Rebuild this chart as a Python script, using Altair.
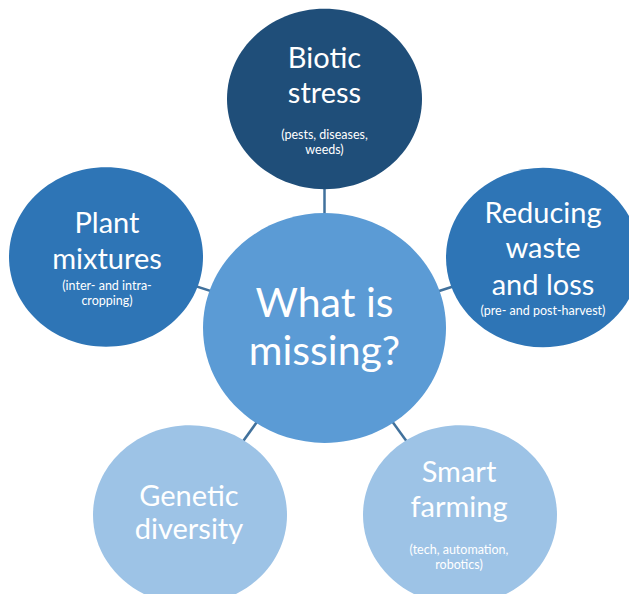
import altair as alt
import pandas as pd

# ---- diagram content -------------------------------------------------------
hub_label = ["What is", "missing?"]
hub_center = (324.5, 328.0)
hub_radius = (121.5, 115.0)          # horizontal, vertical
hub_fill = "#5B9BD5"

node_names = ["Biotic stress", "Plant mixtures", "Reducing waste and loss",
              "Genetic diversity", "Smart farming"]
node_x = [324.5, 106.0, 543.0, 190.0, 460.0]
node_y = [99.0, 257.0, 257.5, 515.0, 515.0]
node_rx = [97.5, 97.0, 97.0, 97.0, 97.0]
node_fill = ["#1F4E79", "#2E75B6", "#2E75B6", "#9DC3E6", "#9DC3E6"]

title_lines = [["Biotic", "stress"], ["Plant", "mixtures"],
               ["Reducing", "waste", "and loss"], ["Genetic", "diversity"],
               ["Smart", "farming"]]
title_baselines = [[68, 102.5], [233, 269], [223, 258, 295], [506, 539], [482, 517]]
sub_text = ["(pests, diseases,\nweeds)", "(inter- and intra-\ncropping)",
            "(pre- and post-harvest)", "", "(tech, automation,\nrobotics)"]
sub_baseline = [139, 290, 315, None, 554]
text_x = [324.5, 107.0, 543.0, 189.0, 459.0]
hub_baselines = [317, 365]

LINE_COLOR = "#41719C"
FONT = "Lato"
RATIO_SAT = 0.925
RATIO_HUB = 0.946


def ellipse(k):
    return f"M -1 0 A 1 {k} 0 1 0 1 0 A 1 {k} 0 1 0 -1 0 Z"


# ---- tables ---------------------------------------------------------------
sat = pd.DataFrame({"name": node_names, "x": node_x, "y": node_y,
                    "size": [(2 * r) ** 2 for r in node_rx], "fill": node_fill,
                    "cx": [hub_center[0]] * 5, "cy": [hub_center[1]] * 5})
hub = pd.DataFrame({"name": ["hub"], "x": [hub_center[0]], "y": [hub_center[1]],
                    "size": [(2 * hub_radius[0]) ** 2], "fill": [hub_fill]})

rows = []
for i in range(len(node_names)):
    for t, b in zip(title_lines[i], title_baselines[i]):
        rows.append({"text": t, "x": text_x[i], "y": b, "fs": 29})
for t, b in zip(hub_label, hub_baselines):
    rows.append({"text": t, "x": hub_center[0], "y": b, "fs": 41})
texts = pd.DataFrame(rows)

subs = pd.DataFrame([{"text": sub_text[i], "x": text_x[i], "y": sub_baseline[i]}
                     for i in range(len(node_names)) if sub_text[i]])

W, H = 621, 586
xs = alt.Scale(domain=[8, 8 + W], nice=False, zero=False)
ys = alt.Scale(domain=[8, 8 + H], nice=False, zero=False, reverse=True)

rules = alt.Chart(sat).mark_rule(color=LINE_COLOR, strokeWidth=2.5).encode(
    x=alt.X("cx:Q", scale=xs, axis=None), y=alt.Y("cy:Q", scale=ys, axis=None),
    x2="x:Q", y2="y:Q")

sat_layer = alt.Chart(sat).mark_point(shape=ellipse(RATIO_SAT), filled=True,
                                      opacity=1, strokeWidth=0).encode(
    x=alt.X("x:Q", scale=xs, axis=None), y=alt.Y("y:Q", scale=ys, axis=None),
    size=alt.Size("size:Q", scale=None), color=alt.Color("fill:N", scale=None))

hub_layer = alt.Chart(hub).mark_point(shape=ellipse(RATIO_HUB), filled=True,
                                      opacity=1, strokeWidth=0).encode(
    x=alt.X("x:Q", scale=xs, axis=None), y=alt.Y("y:Q", scale=ys, axis=None),
    size=alt.Size("size:Q", scale=None), color=alt.Color("fill:N", scale=None))

text_layer = alt.Chart(texts).mark_text(color="white", font=FONT, align="center",
                                        baseline="alphabetic").encode(
    x=alt.X("x:Q", scale=xs, axis=None), y=alt.Y("y:Q", scale=ys, axis=None),
    text="text:N", size=alt.Size("fs:Q", scale=None))

sub_layer = alt.Chart(subs).mark_text(color="white", font=FONT, align="center",
                                      baseline="alphabetic", fontSize=12.5,
                                      lineBreak="\n", lineHeight=15).encode(
    x=alt.X("x:Q", scale=xs, axis=None), y=alt.Y("y:Q", scale=ys, axis=None),
    text="text:N")

chart = alt.layer(rules, sat_layer, hub_layer, text_layer, sub_layer).properties(
    width=W, height=H, autosize=alt.AutoSizeParams(type="none"), padding=0,
    background="white").configure_view(stroke=None)

chart.save("out.html", embed_options={"renderer": "svg", "actions": False})
